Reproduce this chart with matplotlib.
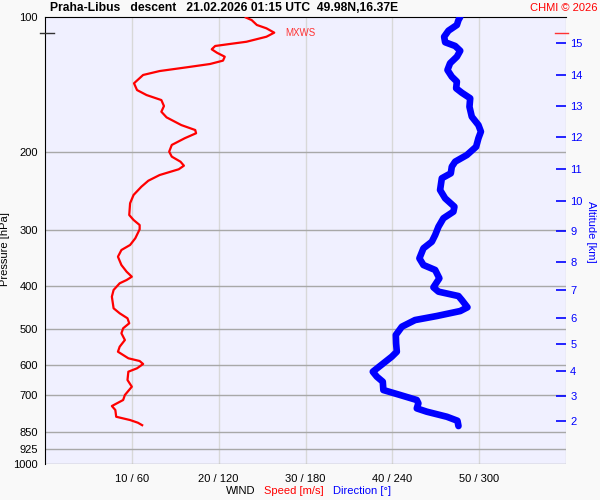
import matplotlib
matplotlib.use("Agg")
import matplotlib.pyplot as plt
from matplotlib.ticker import NullLocator, NullFormatter, FixedLocator, FixedFormatter

plt.rcParams['font.family'] = ['Liberation Sans', 'DejaVu Sans']

# ---- data ----
speed_p = [100.0, 101.6, 104.2, 106.0, 108.4, 110.7, 113.6, 114.9, 116.1, 118.1, 120.2, 122.7,
           125.2, 127.4, 129.6, 132.1, 134.8, 140.7, 145.7, 149.5, 153.4, 158.2, 162.9, 167.7,
           174.5, 179.0, 182.0, 186.7, 193.3, 200.1, 205.3, 210.7, 215.1, 219.1, 225.7, 232.4,
           239.7, 250.1, 261.0, 277.3, 284.5, 292.0, 298.5, 312.6, 323.6, 332.1, 343.8, 358.8,
           371.4, 381.1, 387.6, 394.2, 408.0, 422.4, 448.4, 460.1, 472.1, 484.4, 497.0, 510.0,
           528.0, 546.5, 560.8, 580.1, 588.3, 597.4, 610.8, 621.6, 648.8, 671.6, 700.9, 719.2,
           741.8, 757.2, 784.0, 797.4, 808.5, 821.1]
speed_ms = [23.0, 23.8, 24.4, 25.5, 26.4, 25.5, 23.2, 21.3, 19.6, 19.2, 19.8, 20.7,
            20.5, 19.0, 16.3, 13.2, 11.3, 10.25, 10.6, 11.7, 13.4, 13.7, 13.4, 14.0,
            15.7, 17.3, 17.4, 16.1, 14.6, 14.3, 14.6, 15.6, 16.0, 15.4, 13.2, 11.9,
            11.1, 10.2, 9.8, 9.7, 10.2, 10.9, 10.9, 10.4, 9.8, 8.8, 8.4, 8.8,
            9.4, 10.0, 9.4, 8.6, 7.9, 7.7, 7.9, 8.6, 9.5, 9.7, 9.0, 8.8,
            9.2, 8.6, 8.4, 9.6, 10.9, 11.3, 10.6, 9.6, 9.5, 10.0, 9.2, 9.0,
            7.7, 8.1, 8.2, 9.8, 10.7, 11.3]

dir_p = [100.0, 101.6, 104.2, 107.3, 110.7, 113.9, 116.1, 119.0, 122.7, 126.9, 131.4, 136.0,
         139.5, 144.4, 147.7, 152.0, 158.8, 167.1, 174.5, 180.5, 186.7, 195.1, 203.6, 210.7,
         216.2, 223.7, 229.5, 243.8, 254.5, 265.7, 272.6, 282.0, 294.5, 307.4, 318.2, 329.2,
         346.7, 358.8, 368.1, 384.2, 402.5, 411.6, 421.0, 429.7, 446.1, 454.8, 466.6, 476.4,
         493.0, 514.5, 537.0, 560.8, 575.4, 595.4, 621.6, 637.8, 654.5, 683.2, 700.9, 719.2,
         731.6, 750.9, 763.8, 784.0, 800.3, 822.4]
dir_deg = [286.9, 285.7, 284.6, 278.8, 275.8, 276.5, 283.4, 286.9, 284.6, 279.9, 278.1, 281.1,
           284.6, 284.1, 288.0, 293.8, 293.3, 294.9, 299.5, 301.2, 299.5, 297.9, 291.5, 283.4,
           281.1, 280.4, 274.2, 273.0, 276.5, 282.9, 282.2, 275.3, 271.9, 269.6, 267.3, 261.5,
           258.7, 261.5, 269.6, 272.5, 268.4, 271.9, 285.7, 288.0, 291.9, 286.9, 270.7, 255.7,
           246.6, 242.4, 242.6, 243.1, 239.6, 233.8, 226.5, 229.3, 233.4, 233.8, 245.4, 256.9,
           258.0, 256.9, 263.8, 277.7, 285.0, 285.7]

p_ticks = [100, 200, 300, 400, 500, 600, 700, 850, 925, 1000]
speed_ticks = [10, 20, 30, 40, 50]
speed_tick_labels = ["10 / 60", "20 / 120", "30 / 180", "40 / 240", "50 / 300"]
alt_km = [2, 3, 4, 5, 6, 7, 8, 9, 10, 11, 12, 13, 14, 15]
alt_p = [800, 705, 619, 539, 470.7, 408, 353.3, 301.5, 257.6, 218.5, 185.2, 158.2, 134.6, 114.2]
mxws_p = 108.4
mxws_speed = 26.4

title = "Praha-Libus   descent   21.02.2026 01:15 UTC  49.98N,16.37E"

# ---- figure ----
fig = plt.figure(figsize=(6, 5), dpi=100, facecolor='#f9f9f9')
ax = fig.add_axes([45/600, 1-464/500, (566-45)/600, (464-17)/500])
ax.set_facecolor('#f0f0ff')
ax.set_yscale('log')
ax.set_ylim(1000, 100)
ax.set_xlim(0, 60)

# direction axis (shares y with ax)
axd = ax.twiny()
axd.set_xlim(0, 360)
axd.xaxis.set_major_locator(NullLocator())
axd.xaxis.set_minor_locator(NullLocator())
for s in axd.spines.values():
    s.set_visible(False)

# altitude axis (shares x with ax)
axa = ax.twinx()
axa.set_yscale('log')
axa.set_ylim(1000, 100)

# grids
for x in speed_ticks + [60]:
    ax.axvline(x, color='#d8d8d8', lw=1, zorder=1)
for p in p_ticks[1:]:
    ax.axhline(p, color='#a8a8a8', lw=1, zorder=1)

# pressure ticks (set after twins so scale resets don't wipe them)
ax.yaxis.set_major_locator(FixedLocator(p_ticks))
ax.yaxis.set_major_formatter(FixedFormatter([str(p) for p in p_ticks]))
ax.yaxis.set_minor_locator(NullLocator())
ax.yaxis.set_minor_formatter(NullFormatter())
ax.tick_params(axis='y', which='both', length=0, pad=5, labelsize=8)
ax.set_xticks(speed_ticks)
ax.set_xticklabels(speed_tick_labels)
ax.tick_params(axis='x', length=0, pad=7, labelsize=8)

for s in ['right', 'bottom']:
    ax.spines[s].set_visible(False)
ax.spines['left'].set_color('black')
ax.spines['top'].set_color('black')

ax.set_ylabel('Pressure [hPa]', fontsize=8)
ax.yaxis.set_label_coords(-0.068, 0.48)

# speed line
ax.plot(speed_ms, speed_p, color='#ff0000', lw=1.6, zorder=5, solid_capstyle='butt')

# direction line
axd.plot(dir_deg, dir_p, color='#0000ff', lw=4.8, solid_capstyle='round', zorder=5)

# altitude ticks
axa.yaxis.set_major_locator(FixedLocator(alt_p))
axa.yaxis.set_major_formatter(FixedFormatter([str(k) for k in alt_km]))
axa.yaxis.set_minor_locator(NullLocator())
axa.yaxis.set_minor_formatter(NullFormatter())
axa.tick_params(axis='y', direction='in', length=7, width=1.2, pad=3, colors='#0000ff', labelsize=8)
for s in axa.spines.values():
    s.set_visible(False)
axa.set_ylabel('Altitude [km]', color='#0000ff', fontsize=8, rotation=270, va='bottom')
axa.yaxis.set_label_coords(1.038, 0.52)

# MXWS marker
trans_r = axa.get_yaxis_transform()
axa.plot([0.979, 1.004], [mxws_p, mxws_p], color='#ff3333', lw=1, transform=trans_r, clip_on=False)
axa.plot([-0.009, 0.017], [mxws_p, mxws_p], color='#333333', lw=1, transform=trans_r, clip_on=False)
ax.text(mxws_speed + 1.3, mxws_p, 'MXWS', color='#ff3333', fontsize=7, va='center', ha='left', zorder=6)

# titles
fig.text(50/600, 1-8/500, title, fontsize=8.75, fontweight='bold', ha='left', va='center')
fig.text(597/600, 1-8/500, 'CHMI © 2026', fontsize=8, color='#ff0000', ha='right', va='center')

# bottom legend
fig.text(226/600, 1-491/500, 'WIND', fontsize=8, ha='left', va='center')
fig.text(264/600, 1-491/500, 'Speed [m/s]', fontsize=8, color='#ff0000', ha='left', va='center')
fig.text(333/600, 1-491/500, 'Direction [°]', fontsize=8, color='#0000ff', ha='left', va='center')

fig.savefig('out.png', dpi=100, facecolor=fig.get_facecolor())
